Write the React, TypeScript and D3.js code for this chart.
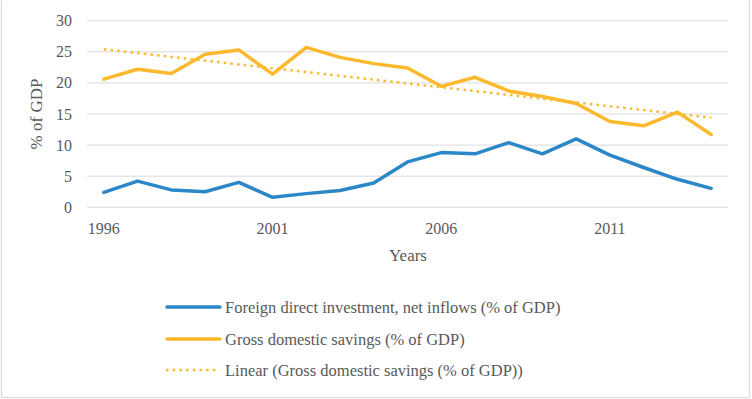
import React from 'react'
import * as d3 from 'd3'

// values
const years = d3.range(1996, 2015)
const fdi = [2.4, 4.2, 2.8, 2.5, 4.0, 1.6, 2.2, 2.7, 3.9, 7.3, 8.8, 8.6, 10.4, 8.6, 11.0, 8.4, 6.4, 4.5, 3.05]
const savings = [20.6, 22.2, 21.5, 24.6, 25.3, 21.4, 25.7, 24.1, 23.1, 22.4, 19.45, 20.9, 18.7, 17.8, 16.7, 13.8, 13.1, 15.3, 11.7]
const yTicks = [0, 5, 10, 15, 20, 25, 30]
const xTickYears = [1996, 2001, 2006, 2011]
const legendLabels = [
  'Foreign direct investment, net inflows (% of GDP)',
  'Gross domestic savings (% of GDP)',
  'Linear (Gross domestic savings (% of GDP))',
]

const BLUE = '#2B87C8'
const GOLD = '#FDB92E'
const TEXT = '#595959'
const FONT = 'Liberation Serif'

export default function App() {
  const width = 752
  const height = 399
  const left = 87
  const right = 728
  const top = 20.7
  const bottom = 207.3

  const x = d3.scaleBand<number>().domain(years).range([left, right])
  const px = (yr: number) => (x(yr) as number) + x.bandwidth() / 2
  const y = d3.scaleLinear().domain([0, 30]).range([bottom, top])

  // Excel-style linear trendline: least squares fit of the savings series
  const idx = years.map((_, i) => i + 1)
  const mx = d3.mean(idx) as number
  const my = d3.mean(savings) as number
  const slope = d3.sum(idx, (v, i) => (v - mx) * (savings[i] - my)) / d3.sum(idx, v => (v - mx) ** 2)
  const trend = idx.map(v => my + slope * (v - mx))

  const line = (vals: number[]) =>
    d3.line<number>().x((_, i) => px(years[i])).y(d => y(d))(vals) || ''

  const legendY = [307, 339, 370]

  return (
    <svg width={width} height={height} style={{ position: 'absolute', left: 0, top: 0, background: '#fff' }}>
      <rect x={1.5} y={-0.5} width={748} height={398} fill="#fff" stroke="#d9d9d9" strokeWidth={1.2} />
      {yTicks.map(t => (
        <g key={t}>
          <line x1={left} x2={right} y1={y(t)} y2={y(t)} stroke="#d9d9d9" strokeWidth={1} />
          <text x={72} y={y(t) + 5.5} textAnchor="end" fontFamily={FONT} fontSize={16} fill={TEXT}>{t}</text>
        </g>
      ))}
      {xTickYears.map(yr => (
        <text key={yr} x={px(yr)} y={234} textAnchor="middle" fontFamily={FONT} fontSize={16} fill={TEXT}>{yr}</text>
      ))}
      <text transform={`translate(42,${(top + bottom) / 2}) rotate(-90)`} textAnchor="middle" fontFamily={FONT} fontSize={17} fill={TEXT}>% of GDP</text>
      <text x={408} y={261} textAnchor="middle" fontFamily={FONT} fontSize={17} fill={TEXT}>Years</text>

      <path d={line(fdi)} fill="none" stroke={BLUE} strokeWidth={3.5} strokeLinejoin="round" strokeLinecap="round" />
      <path d={line(savings)} fill="none" stroke={GOLD} strokeWidth={3.5} strokeLinejoin="round" strokeLinecap="round" />
      <path d={line(trend)} fill="none" stroke={GOLD} strokeWidth={2.5} strokeDasharray="2.5,4.2" />

      {legendLabels.map((label, i) => (
        <g key={label}>
          {i < 2 ? (
            <line x1={167} x2={220} y1={legendY[i]} y2={legendY[i]} stroke={i === 0 ? BLUE : GOLD} strokeWidth={3.5} strokeLinecap="round" />
          ) : (
            <line x1={166} x2={216} y1={legendY[i]} y2={legendY[i]} stroke={GOLD} strokeWidth={2.5} strokeDasharray="2.5,4.2" />
          )}
          <text x={225} y={legendY[i] + 5.5} fontFamily={FONT} fontSize={16.5} fill={TEXT}>{label}</text>
        </g>
      ))}
    </svg>
  )
}
